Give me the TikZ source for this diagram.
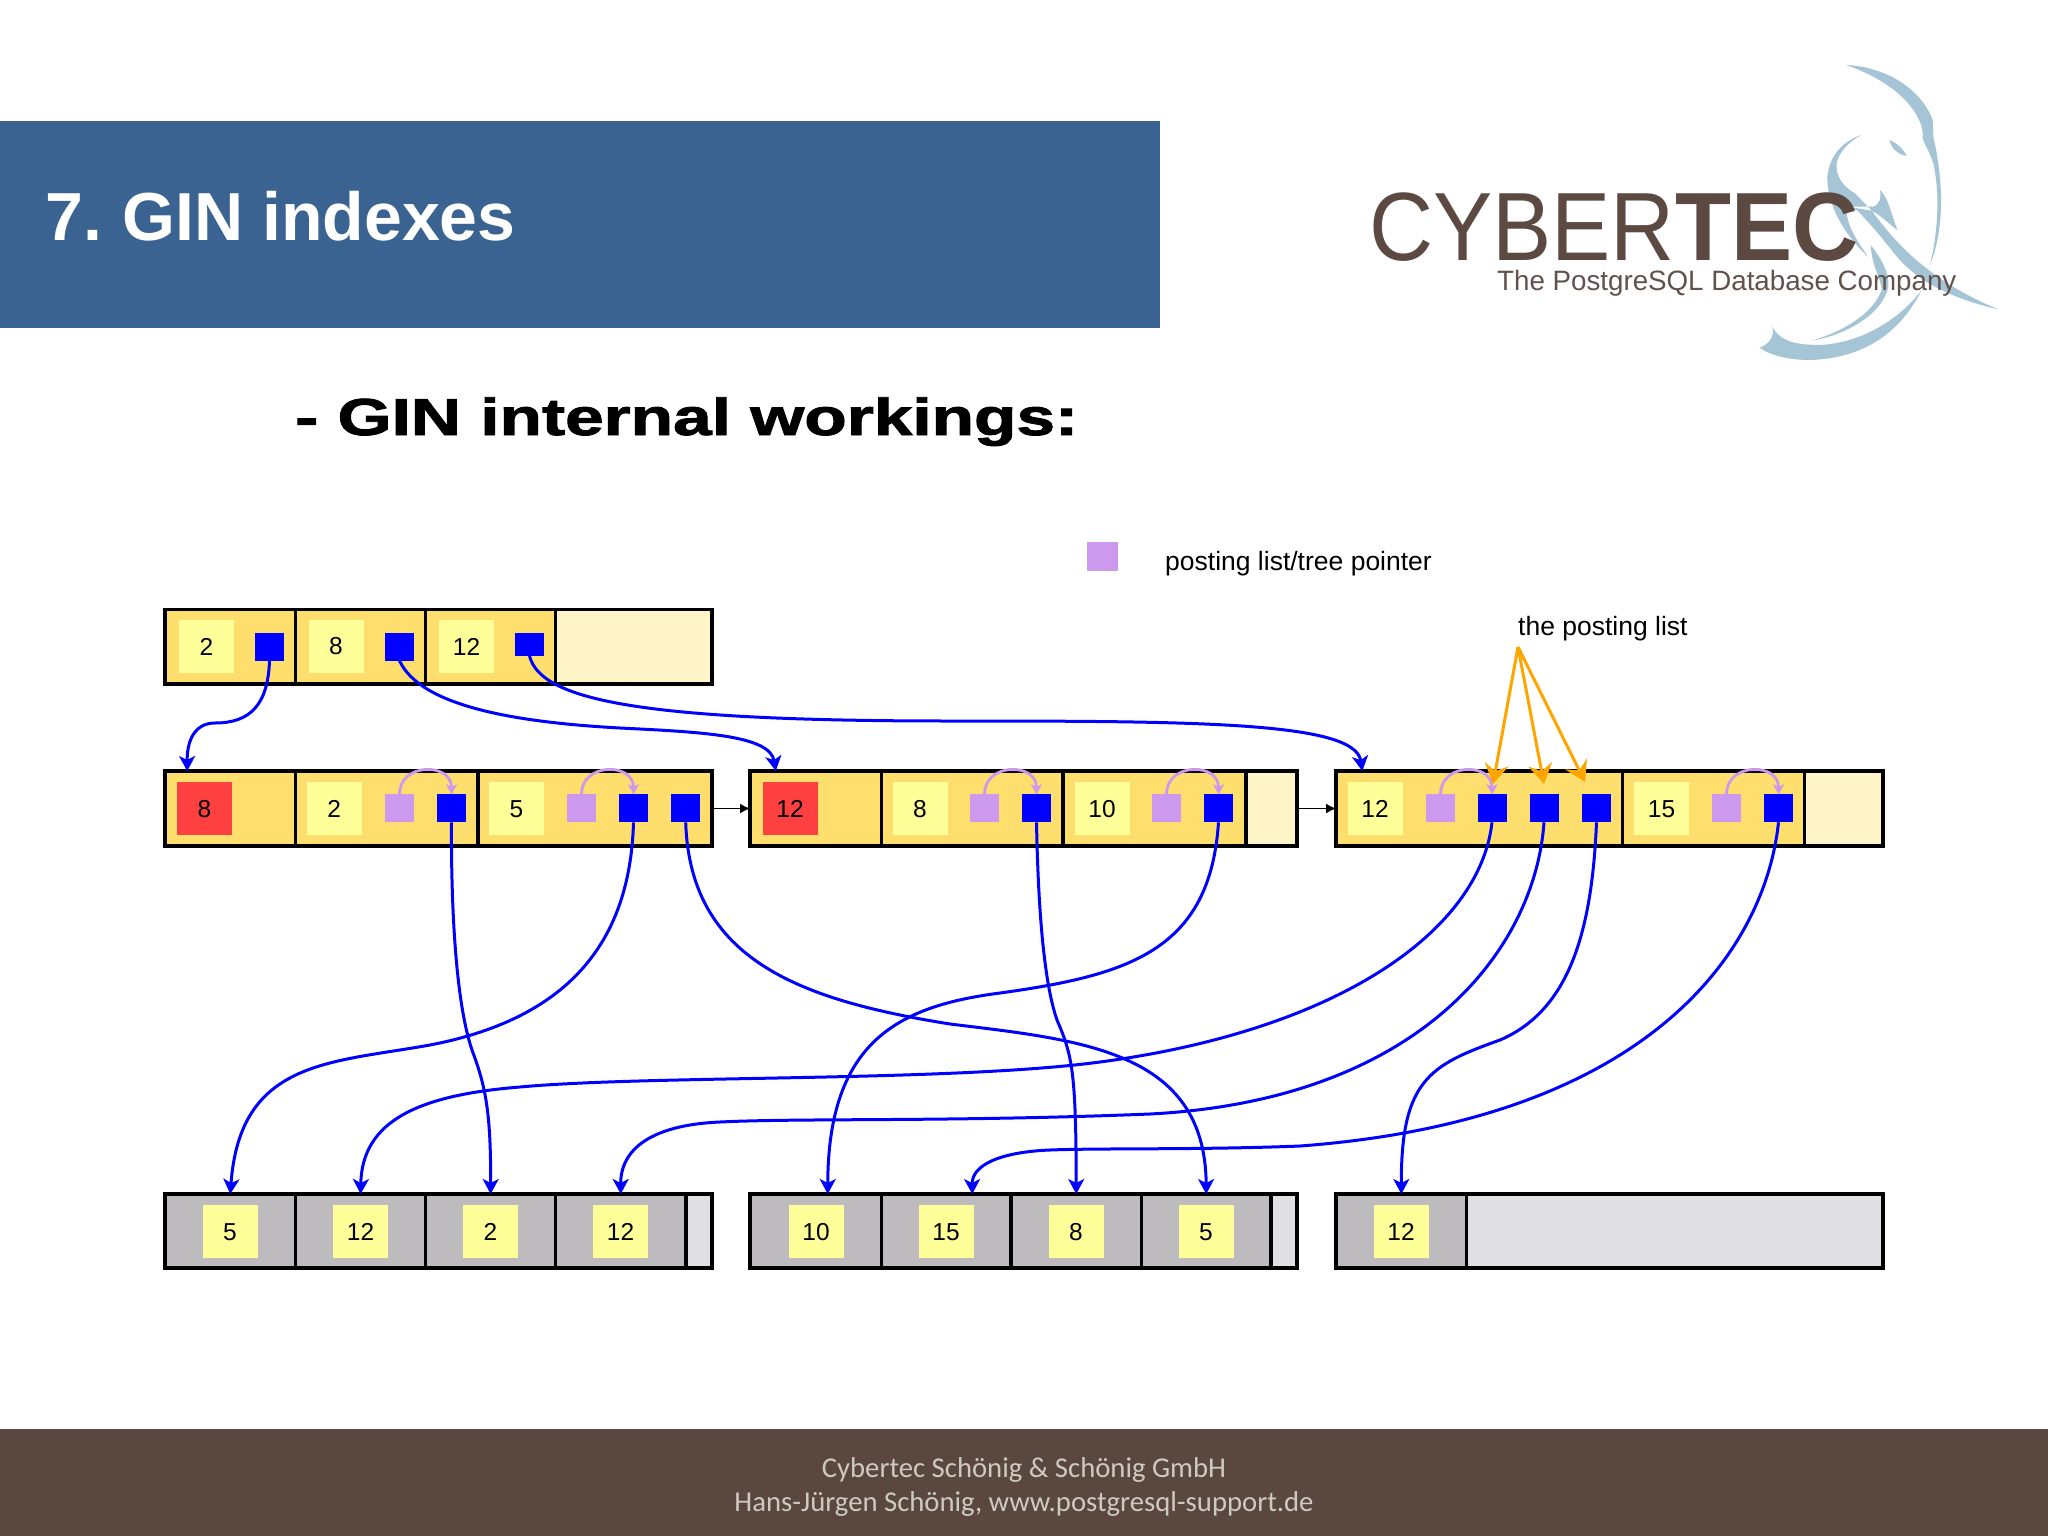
\documentclass[tikz,border=0pt]{standalone}
\usepackage{fontspec}
\usepackage{graphicx}
\usetikzlibrary{arrows.meta}
\setmainfont{Liberation Sans}
\newfontfamily\carl{Carlito}
\newfontfamily\heavy[BoldFeatures={FakeBold=1.6}]{Liberation Sans}
\definecolor{hdr}{HTML}{3A6391}
\definecolor{foot}{HTML}{5A4840}
\definecolor{foottxt}{HTML}{CFC9C3}
\definecolor{bar}{HTML}{FEDF6E}
\definecolor{free}{HTML}{FFF5C8}
\definecolor{gy}{HTML}{BDBBBD}
\definecolor{gyfree}{HTML}{E0DFE2}
\definecolor{ky}{HTML}{FFFF99}
\definecolor{rd}{HTML}{FF4040}
\definecolor{pu}{HTML}{CC99EE}
\definecolor{bl}{HTML}{0000FF}
\definecolor{og}{HTML}{FFA500}
\definecolor{ele}{HTML}{A5C4D6}
\definecolor{logo}{HTML}{5C4A42}
\tikzset{
  cellbox/.style={draw=black,line width=3.1pt,inner sep=0pt,outer sep=0pt},
  keybox/.style={fill=ky,inner sep=0pt,outer sep=0pt,minimum width=55pt,minimum height=53.5pt,font=\fontsize{24.5}{29}\selectfont},
  redbox/.style={keybox,fill=rd},
  ptr/.style={fill=bl,inner sep=0pt,outer sep=0pt,minimum width=29pt,minimum height=28pt},
  purp/.style={fill=pu,inner sep=0pt,outer sep=0pt,minimum width=29pt,minimum height=28pt},
  link/.style={draw=bl,line width=3pt,-{Stealth[length=15pt,width=16pt,inset=4pt]}},
  arc/.style={draw=pu,line width=2.8pt,-{Stealth[length=10pt,width=11pt,inset=2.5pt]}},
  orng/.style={draw=og,line width=3pt,-{Stealth[length=20pt,width=24pt,inset=7pt]}},
  nextp/.style={draw=black,line width=1.4pt,-{Latex[length=10pt,width=10pt]}},
  lbl/.style={inner sep=0pt,font=\fontsize{26.5}{31}\selectfont}
}
\newcommand{\mycell}[6]{%
  \pgfmathsetmacro\cw{#3-#2}\pgfmathsetmacro\ch{#5-#4}%
  \pgfmathsetmacro\cx{(#2+#3)/2}\pgfmathsetmacro\cy{(#4+#5)/2}%
  \node[cellbox,fill=#6,minimum width=\cw pt,minimum height=\ch pt] (#1) at (\cx,\cy) {};}
\begin{document}
\begin{tikzpicture}[x=1pt,y=-1pt]
\useasboundingbox (0,0) rectangle (2048,1536);
\fill[white] (0,0) rectangle (2048,1536);
% header
\fill[hdr] (0,121) rectangle (1160,328);
\node[anchor=west,inner sep=0pt,text=white,font=\fontsize{68}{80}\selectfont\bfseries] (title) at (45.5,216) {7.\hspace{-5pt} GIN indexes};
% footer
\fill[foot] (0,1429) rectangle (2048,1536);
\node[inner sep=0pt,text=foottxt,align=center,font=\carl\fontsize{28.7}{34}\selectfont] (foottext) at (1024,1486.5) {Cybertec Schönig \& Schönig GmbH\\Hans-Jürgen Schönig, www.postgresql-support.de};
% logo elephant
\begin{scope}[shift={(1740,50)},x=0.3333pt,y=-0.3333pt,fill=ele]
\fill (318,45) .. controls (430,50) and (540,110) .. (578,210) -- (580,260) .. controls (605,370) and (620,520) .. (570,645) .. controls (595,540) and (600,430) .. (580,340) .. controls (570,310) and (555,285) .. (548,265) .. controls (555,200) and (480,100) .. (318,45) -- cycle;
\fill (365,255) .. controls (300,275) and (262,330) .. (262,390) .. controls (265,460) and (300,540) .. (385,622) .. controls (350,570) and (315,520) .. (320,470) -- (395,482) .. controls (460,570) and (560,690) .. (775,778) .. controls (650,750) and (540,700) .. (475,625) .. controls (430,570) and (400,530) .. (350,480) -- (320,470) -- (400,470) .. controls (415,465) and (425,450) .. (420,420) .. controls (445,445) and (450,480) .. (472,540) .. controls (445,520) and (420,495) .. (395,482) -- (345,430) .. controls (315,415) and (285,380) .. (290,340) .. controls (295,310) and (325,275) .. (365,255) -- cycle;
\fill (215,872) .. controls (320,855) and (430,790) .. (445,710) .. controls (450,670) and (420,620) .. (392,585) .. controls (395,650) and (425,690) .. (425,720) .. controls (400,790) and (310,845) .. (215,872) -- cycle;
\fill (58,893) .. controls (85,885) and (105,860) .. (97,830) .. controls (120,875) and (170,885) .. (240,885) .. controls (350,880) and (470,820) .. (545,720) .. controls (480,850) and (370,925) .. (210,930) .. controls (140,930) and (90,915) .. (58,893) -- cycle;
\fill (448,270) .. controls (475,280) and (495,305) .. (500,318) .. controls (470,312) and (455,295) .. (448,270) -- cycle;
\end{scope}
\node[anchor=base west,inner sep=0pt,text=logo,font=\fontsize{97}{110}\selectfont] (cyber) at (1369,260) {\scalebox{0.915}[1]{CYBER}{\bfseries\scalebox{0.945}[1]{TEC}}};
\node[anchor=base west,inner sep=0pt,text=logo!85!gray,font=\fontsize{28}{34}\selectfont] (tag) at (1497,290) {\scalebox{0.99}[1]{The PostgreSQL Database Company}};
% subtitle
\node[anchor=base west,inner sep=0pt,font=\heavy\fontsize{52}{60}\selectfont\bfseries] (sub) at (295,435) {\scalebox{1.335}[1]{- GIN internal workings:}};
% legend
\node[purp,minimum width=31pt,minimum height=29pt] (lg) at (1102.5,556.5) {};
\node[lbl,anchor=west] (lgt) at (1165,563.5) {posting list/tree pointer};
\node[lbl,anchor=west] (plt) at (1518,628.5) {the posting list};
\coordinate (po) at (1518,647);
% root
\mycell{r1}{165}{295.5}{609.5}{684}{bar}
\mycell{r2}{295.5}{425.7}{609.5}{684}{bar}
\mycell{r3}{425.7}{555.5}{609.5}{684}{bar}
\mycell{r4}{555.5}{712}{609.5}{684}{free}
\node[keybox] (rk1) at (206.5,646.5) {2};
\node[keybox] (rk2) at (336,646.5) {8};
\node[keybox] (rk3) at (466.5,646.5) {12};
\node[ptr,minimum height=28pt] (rp1) at (269.5,646.7) {};
\node[ptr] (rp2) at (399.5,646.7) {};
\node[ptr,minimum height=23pt] (rp3) at (529.5,644.2) {};
% row 2 group 1
\mycell{a1}{165}{295.5}{771}{846}{bar}
\mycell{a2}{295.5}{478}{771}{846}{bar}
\mycell{a3}{478}{712}{771}{846}{bar}
\node[redbox] (ak1) at (204.5,808.7) {8};
\node[keybox] (ak2) at (334.2,808.7) {2};
\node[keybox] (ak3) at (516.5,808.7) {5};
\node[purp] (au1) at (399.5,808.3) {};
\node[ptr] (ap1) at (451.5,808.3) {};
\node[purp] (au2) at (581.5,808.3) {};
\node[ptr] (ap2) at (633.5,808.3) {};
\node[ptr] (ap3) at (685.7,808.3) {};
% row 2 group 2
\mycell{b1}{750}{881.5}{771}{846}{bar}
\mycell{b2}{881.5}{1063}{771}{846}{bar}
\mycell{b3}{1063}{1246}{771}{846}{bar}
\mycell{b4}{1246}{1297}{771}{846}{free}
\node[redbox] (bk1) at (790,808.7) {12};
\node[keybox] (bk2) at (920,808.7) {8};
\node[keybox] (bk3) at (1102,808.7) {10};
\node[purp] (bu1) at (984.5,808.3) {};
\node[ptr] (bp1) at (1036.5,808.3) {};
\node[purp] (bu2) at (1166.5,808.3) {};
\node[ptr] (bp2) at (1218.5,808.3) {};
% row 2 group 3
\mycell{c1}{1336}{1622.6}{771}{846}{bar}
\mycell{c2}{1622.6}{1804.4}{771}{846}{bar}
\mycell{c3}{1804.4}{1883}{771}{846}{free}
\node[keybox] (ck1) at (1375,808.7) {12};
\node[keybox] (ck2) at (1661.5,808.7) {15};
\node[purp] (cu1) at (1440.5,808.3) {};
\node[ptr] (cp1) at (1492,808.3) {};
\node[ptr] (cp2) at (1544,808.3) {};
\node[ptr] (cp3) at (1596.5,808.3) {};
\node[purp] (cu2) at (1726.5,808.3) {};
\node[ptr] (cp4) at (1778.5,808.3) {};
% bottom
\mycell{d1}{165}{295.5}{1194}{1268}{gy}
\mycell{d2}{295.5}{425.7}{1194}{1268}{gy}
\mycell{d3}{425.7}{555.5}{1194}{1268}{gy}
\mycell{d4}{555.5}{686}{1194}{1268}{gy}
\mycell{d5}{686}{712}{1194}{1268}{gyfree}
\mycell{e1}{750}{881.5}{1194}{1268}{gy}
\mycell{e2}{881.5}{1011}{1194}{1268}{gy}
\mycell{e3}{1011}{1141.5}{1194}{1268}{gy}
\mycell{e4}{1141.5}{1271}{1194}{1268}{gy}
\mycell{e5}{1271}{1297}{1194}{1268}{gyfree}
\mycell{f1}{1336}{1466.7}{1194}{1268}{gy}
\mycell{f2}{1466.7}{1883}{1194}{1268}{gyfree}
\node[keybox] (dk1) at (230,1231.7) {5};
\node[keybox] (dk2) at (360.5,1231.7) {12};
\node[keybox] (dk3) at (490.5,1231.7) {2};
\node[keybox] (dk4) at (620.5,1231.7) {12};
\node[keybox] (ek1) at (816,1231.7) {10};
\node[keybox] (ek2) at (946,1231.7) {15};
\node[keybox] (ek3) at (1076,1231.7) {8};
\node[keybox] (ek4) at (1206,1231.7) {5};
\node[keybox] (fk1) at (1401,1231.7) {12};
% next pointers
\draw[nextp] (a3.east) -- (b1.west);
\draw[nextp] (b4.east) -- (c1.west);
% purple arcs
\foreach \u/\p in {au1/ap1,au2/ap2,bu1/bp1,bu2/bp2,cu1/cp1,cu2/cp4}{
  \draw[arc] (\u.north) .. controls +(0,-32) and +(0,-32) .. (\p.north);
}
% orange
\draw[orng] (po) -- (1493,784);
\draw[orng] (po) -- (1544,784);
\draw[orng] (po) -- (1585,782);
% tree links
\draw[link] (rp1.south) .. controls (268,705) and (250,723) .. (215,723) .. controls (195,723) and (187,740) .. ([xshift=-43pt]a1.north);
\draw[link] (rp2.south) .. controls (420,705) and (510,722) .. (620,728) .. controls (700,732) and (770,735) .. ([xshift=-40pt]b1.north);
\draw[link] (rp3.south) .. controls (540,700) and (640,721) .. (950,721) .. controls (1200,721) and (1355,722) .. ([xshift=-117pt]c1.north);
\draw[link] (ap1.south) .. controls (451,900) and (455,1000) .. (472,1050) .. controls (485,1085) and (491,1110) .. (d3.north);
\draw[link] (ap2.south) .. controls (630,950) and (560,1020) .. (430,1045) .. controls (330,1063) and (240,1060) .. (d1.north);
\draw[link] (ap3.south) .. controls (690,960) and (800,1000) .. (950,1024) .. controls (1080,1040) and (1205,1050) .. (e4.north);
\draw[link] (bp1.south) .. controls (1038,900) and (1043,980) .. (1057,1020) .. controls (1072,1055) and (1076,1070) .. (e3.north);
\draw[link] (bp2.south) .. controls (1210,950) and (1130,975) .. (1000,993) .. controls (900,1006) and (828,1040) .. ([xshift=12pt]e1.north);
\draw[link] (cp1.south) .. controls (1480,930) and (1340,1030) .. (1100,1062) .. controls (950,1082) and (650,1075) .. (520,1087) .. controls (420,1095) and (362,1120) .. (d2.north);
\draw[link] (cp2.south) .. controls (1535,950) and (1420,1100) .. (1150,1114) .. controls (950,1122) and (800,1118) .. (720,1122) .. controls (650,1125) and (620.5,1150) .. (d4.north);
\draw[link] (cp3.south) .. controls (1592,930) and (1570,1010) .. (1500,1040) .. controls (1430,1065) and (1401,1080) .. (f1.north);
\draw[link] (cp4.south) .. controls (1765,950) and (1650,1120) .. (1300,1146) .. controls (1200,1150) and (1100,1148) .. (1050,1150) .. controls (1000,1152) and (972,1165) .. ([xshift=26pt]e2.north);
\end{tikzpicture}
\end{document}
